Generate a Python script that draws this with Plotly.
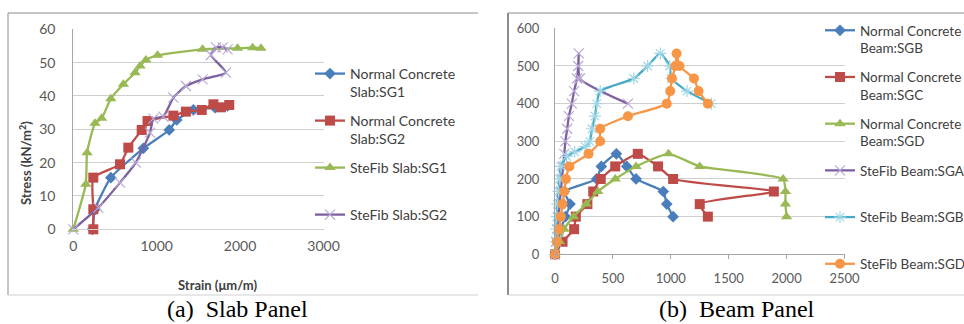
import plotly.graph_objects as go

W, H = 964, 324

# ---------------- DATA ----------------
# Slab panel (strain in µm/m, stress in kN/m²)
slab_nc_sg1_strain = [230, 260, 450, 840, 1150, 1240, 1440, 1700, 1850]
slab_nc_sg1_stress = [0, 6, 15.5, 24.3, 29.8, 32.8, 35.8, 36.5, 37]

slab_nc_sg2_strain = [240, 240, 240, 560, 660, 820, 890, 1200, 1350, 1540, 1680, 1770, 1870]
slab_nc_sg2_stress = [0, 6, 15.5, 19.5, 24.5, 29.8, 32.5, 34.1, 35.3, 35.8, 37.5, 36.6, 37.3]

slab_sf_sg1_strain = [0, 150, 165, 260, 340, 450, 600, 740, 800, 870, 1010, 1550, 1970, 2150, 2250]
slab_sf_sg1_stress = [0, 13.5, 23, 31.8, 33.3, 39.2, 43.5, 47, 49, 50.8, 52.2, 54, 54.3, 54.5, 54.3]

slab_sf_sg2_strain = [0, 300, 560, 750, 920, 960, 1080, 1200, 1350, 1550, 1830, 1650, 1710, 1790, 1850]
slab_sf_sg2_stress = [0, 6.5, 14, 20, 29, 33.2, 33.8, 39.5, 43, 45, 47, 52.3, 54.6, 54.6, 54]

# Beam panel
beam_steps_up = [0, 33.3, 66.7, 100, 133.3, 166.7, 200, 233.3, 266.7]
beam_steps_down = [233.3, 200, 166.7, 133.3, 100]

beam_nc_sgb_strain = [0, 20, 50, 90, 130, 80, 360, 400, 530, 620, 700, 935, 965, 1020]
beam_nc_sgb_stress = beam_steps_up + beam_steps_down

beam_nc_sgc_strain = [0, 65, 165, 180, 280, 330, 395, 520, 715, 890, 1020, 1890, 1250, 1320]
beam_nc_sgc_stress = beam_steps_up + beam_steps_down

beam_nc_sgd_strain = [0, 40, 80, 160, 270, 370, 520, 700, 980, 1250, 1970, 1990, 1990, 2000]
beam_nc_sgd_stress = beam_steps_up + beam_steps_down

beam_sf_sga_strain = [0, 10, 20, 30, 40, 50, 60, 70, 80, 90, 105, 120, 145, 165, 190, 200, 205, 215, 630]
beam_sf_sga_stress = [0, 33.3, 66.7, 100, 133.3, 166.7, 200, 233.3, 266.7, 300, 333.3, 366.7, 400,
                      433.3, 466.7, 500, 533.3, 466.7, 400]

beam_sf_sgb_strain = [0, 5, 10, 15, 20, 30, 40, 50, 100, 170, 260, 300, 320, 345, 360, 390, 680, 800,
                      910, 990, 1005, 1140, 1350]
beam_sf_sgb_stress = [0, 33.3, 66.7, 100, 133.3, 166.7, 200, 233.3, 260, 272, 286, 300, 333.3, 366.7,
                      400, 433.3, 466.7, 500, 533.3, 500, 466.7, 433.3, 400]

beam_sf_sgd_strain = [0, 15, 35, 50, 65, 80, 95, 125, 290, 390, 390, 630, 965, 995, 1010, 1040, 1050,
                      1075, 1200, 1240, 1320]
beam_sf_sgd_stress = [0, 33.3, 66.7, 100, 133.3, 166.7, 200, 233.3, 266.7, 300, 333.3, 366.7, 400,
                      433.3, 466.7, 500, 533.3, 500, 466.7, 433.3, 400]

slab_names = ["Normal Concrete<br>Slab:SG1", "Normal Concrete<br>Slab:SG2",
              "SteFib Slab:SG1<br> ", "SteFib Slab:SG2<br> "]
beam_names = ["Normal Concrete<br>Beam:SGB", "Normal Concrete<br>Beam:SGC",
              "Normal Concrete<br>Beam:SGD", "SteFib Beam:SGA<br> ",
              "SteFib Beam:SGB<br> ", "SteFib Beam:SGD<br> "]
slab_xticks = [0, 1000, 2000, 3000]
slab_yticks = [0, 10, 20, 30, 40, 50, 60]
beam_xticks = [0, 500, 1000, 1500, 2000, 2500]
beam_yticks = [0, 100, 200, 300, 400, 500, 600]

# ---------------- STYLE ----------------
BLUE, RED, GREEN = "#4a7ebb", "#be4b48", "#98b954"
PURPLE, CYAN, ORANGE = "#7d60a0", "#46aac5", "#f79646"
LPURPLE, LCYAN = "#b9a8d6", "#9fd6e6"
FONT = "Lato"
TICKC = "#595959"
GRIDC = "#cfcfcf"
AXC = "#a6a6a6"


def px(x):
    return x / W


def py(y):
    return 1 - y / H


fig = go.Figure()


def add(xs, ys, name, color, symbol, size, xa, ya, legend, mcolor=None, lw=0, spline=True):
    marker = dict(symbol=symbol, size=size, color=mcolor or color,
                  line=dict(width=lw, color=mcolor or color))
    fig.add_trace(go.Scatter(
        x=xs, y=ys, name=name, mode="lines+markers",
        line=dict(color=color, width=2.3, shape="spline" if spline else "linear", smoothing=0.5),
        marker=marker, xaxis=xa, yaxis=ya, legend=legend, legendgroup=name,
        cliponaxis=False))


add(slab_nc_sg1_strain, slab_nc_sg1_stress, slab_names[0], BLUE, "diamond", 9, "x", "y", "legend")
add(slab_nc_sg2_strain, slab_nc_sg2_stress, slab_names[1], RED, "square", 10, "x", "y", "legend")
add(slab_sf_sg1_strain, slab_sf_sg1_stress, slab_names[2], GREEN, "triangle-up", 10, "x", "y", "legend")
add(slab_sf_sg2_strain, slab_sf_sg2_stress, slab_names[3], PURPLE, "x-thin", 10, "x", "y", "legend",
    mcolor=LPURPLE, lw=1.2)

add(beam_nc_sgb_strain, beam_nc_sgb_stress, beam_names[0], BLUE, "diamond", 9, "x2", "y2", "legend2")
add(beam_nc_sgc_strain, beam_nc_sgc_stress, beam_names[1], RED, "square", 10, "x2", "y2", "legend2")
add(beam_nc_sgd_strain, beam_nc_sgd_stress, beam_names[2], GREEN, "triangle-up", 10, "x2", "y2", "legend2")
add(beam_sf_sga_strain, beam_sf_sga_stress, beam_names[3], PURPLE, "x-thin", 10, "x2", "y2", "legend2",
    mcolor=LPURPLE, lw=1.2)
add(beam_sf_sgb_strain, beam_sf_sgb_stress, beam_names[4], CYAN, "asterisk", 10, "x2", "y2", "legend2",
    mcolor=LCYAN, lw=1.2)
add(beam_sf_sgd_strain, beam_sf_sgd_stress, beam_names[5], ORANGE, "circle", 10, "x2", "y2", "legend2")

tickfont = dict(family=FONT, size=14, color=TICKC)
tickfont_b = dict(family=FONT, size=13, color=TICKC)

fig.update_layout(
    width=W, height=H, margin=dict(l=0, r=0, t=0, b=0, autoexpand=False),
    paper_bgcolor="white", plot_bgcolor="rgba(0,0,0,0)",
    font=dict(family=FONT, color="#404040"),
    xaxis=dict(domain=[px(73.3), px(323.5)], range=[0, 3000], tickvals=slab_xticks,
               showgrid=False, zeroline=False, showline=True, linecolor=GRIDC, linewidth=1,
               ticks="", tickfont=tickfont, ticklabelstandoff=4, anchor="y", fixedrange=True),
    yaxis=dict(domain=[py(229.3), py(29.3)], range=[0, 60], tickvals=slab_yticks,
               showgrid=True, gridcolor=GRIDC, gridwidth=1, zeroline=False,
               showline=True, linecolor=AXC, linewidth=1, ticks="", tickfont=tickfont,
               ticklabelstandoff=14, anchor="x", fixedrange=True),
    xaxis2=dict(domain=[px(555), px(844.5)], range=[0, 2500], tickvals=beam_xticks,
                showgrid=False, zeroline=False, showline=True, linecolor=AXC, linewidth=1,
                ticks="outside", ticklen=4, tickcolor=AXC, tickfont=tickfont_b,
                ticklabelstandoff=8, anchor="y2", fixedrange=True),
    yaxis2=dict(domain=[py(254.3), py(28.3)], range=[0, 600], tickvals=beam_yticks,
                showgrid=True, gridcolor=GRIDC, gridwidth=1, zeroline=False,
                showline=True, linecolor=AXC, linewidth=1, ticks="", tickfont=tickfont_b,
                ticklabelstandoff=12, anchor="x2", fixedrange=True),
    legend=dict(x=px(310), y=py(58), xanchor="left", yanchor="top", bgcolor="rgba(0,0,0,0)",
                font=dict(family=FONT, size=14, color="#404040"), valign="top",
                tracegroupgap=7.6, itemclick=False, itemdoubleclick=False),
    legend2=dict(x=px(820), y=py(15), xanchor="left", yanchor="top", bgcolor="rgba(0,0,0,0)",
                 font=dict(family=FONT, size=13.5, color="#404040"), valign="top",
                 tracegroupgap=8.6, itemclick=False, itemdoubleclick=False),
)

# Panel borders
border = dict(type="line", xref="paper", yref="paper", layer="below")
fig.add_shape(**border, x0=px(8), x1=px(478), y0=py(13), y1=py(13), line=dict(color="#8c8c8c", width=1))
fig.add_shape(**border, x0=px(8), x1=px(8), y0=py(13), y1=py(295), line=dict(color="#8c8c8c", width=1))
fig.add_shape(**border, x0=px(8), x1=px(478), y0=py(295), y1=py(295), line=dict(color="#d0d0d0", width=1))
fig.add_shape(**border, x0=px(508), x1=px(964), y0=py(13), y1=py(13), line=dict(color="#8c8c8c", width=1))
fig.add_shape(**border, x0=px(508), x1=px(508), y0=py(13), y1=py(295), line=dict(color="#8c8c8c", width=2))
fig.add_shape(**border, x0=px(508), x1=px(964), y0=py(295), y1=py(295), line=dict(color="#d0d0d0", width=1))

# Axis titles and captions
ann = dict(xref="paper", yref="paper", showarrow=False, xanchor="center", yanchor="middle")
fig.add_annotation(**ann, text="<b>Strain (μm/m)</b>", x=px(217), y=py(285),
                   font=dict(family=FONT, size=13, color="#404040"))
fig.add_annotation(**ann, text="<b>Stress (kN/m<sup>2</sup>)</b>", x=px(25), y=py(163),
                   textangle=-90, font=dict(family=FONT, size=13, color="#404040"))
fig.add_annotation(**ann, text="(a)\u00a0\u00a0Slab Panel", x=px(237), y=py(308.5),
                   font=dict(family="Liberation Serif", size=24, color="black"))
fig.add_annotation(**ann, text="(b)\u00a0\u00a0Beam Panel", x=px(737), y=py(308.5),
                   font=dict(family="Liberation Serif", size=24, color="black"))

fig.write_html("out.html", config={"displayModeBar": False},
               post_script="document.body.style.margin='0';document.body.style.padding='0';")
